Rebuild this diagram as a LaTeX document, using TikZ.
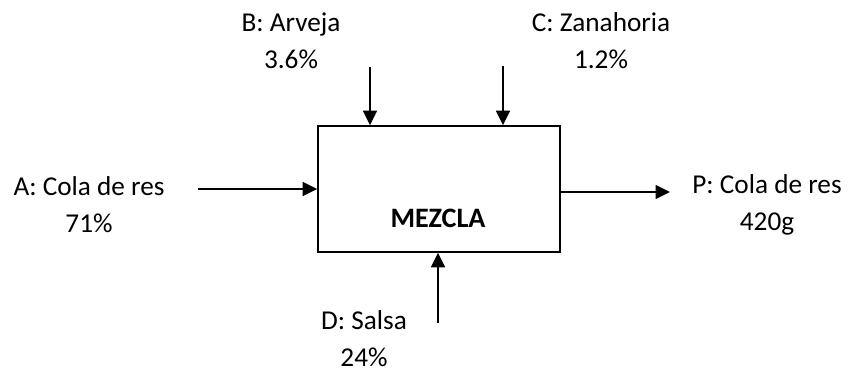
\documentclass[tikz,border=0pt]{standalone}
\usepackage{fontspec}
\setmainfont{Carlito}
\usetikzlibrary{arrows.meta}

\begin{document}
\begin{tikzpicture}[
    box/.style={rectangle, draw, line width=0.9pt, minimum width=4.84cm, minimum height=2.52cm},
    etiqueta/.style={align=center, font=\fontsize{15.5}{21}\selectfont},
    flecha/.style={-{Triangle[length=2.9mm, width=2.8mm]}, line width=0.9pt}
]
\useasboundingbox (0,0) rectangle (16.98,-7.42);

% Proceso central
\node[box] (mezcla) at (8.78,-3.78) {};
\node[font=\fontsize{16}{19}\selectfont\bfseries] (titulo) at (8.76,-4.36) {MEZCLA};

% Corrientes de entrada y salida
\node[etiqueta] (a) at (1.78,-4.09) {A: Cola de res\\71\%};
\node[etiqueta] (b) at (5.82,-0.82) {B: Arveja\\3.6\%};
\node[etiqueta] (c) at (12.02,-0.82) {C: Zanahoria\\1.2\%};
\node[etiqueta] (d) at (7.28,-6.78) {D: Salsa\\24\%};
\node[etiqueta] (p) at (15.34,-4.10) {P: Cola de res\\420g};

% Extremos libres de las flechas
\coordinate (aIn) at (3.96,-3.78);
\coordinate (bIn) at (7.40,-1.34);
\coordinate (cIn) at (10.06,-1.32);
\coordinate (dIn) at (8.76,-6.46);
\coordinate (pOut) at (13.40,-3.84);

% Flechas
\draw[flecha] (aIn) -- (mezcla.west);
\draw[flecha] (bIn) -- (bIn |- mezcla.north);
\draw[flecha] (cIn) -- (cIn |- mezcla.north);
\draw[flecha] (dIn) -- (dIn |- mezcla.south);
\draw[flecha] (mezcla.east |- pOut) -- (pOut);
\end{tikzpicture}
\end{document}
